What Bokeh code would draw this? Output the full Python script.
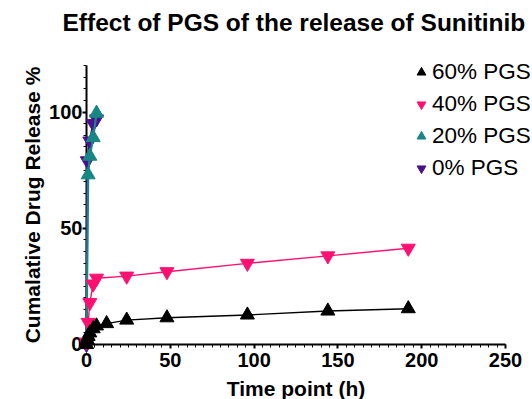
from bokeh.plotting import figure
from bokeh.models import Range1d, Legend, LegendItem, Label, FixedTicker
from bokeh.embed import file_html
from bokeh.resources import INLINE

# Data
t60 = [0, 0.5, 1, 2, 4, 6, 12, 24, 48, 96, 144, 192]
v60 = [0, 2, 3.5, 5, 6.8, 8, 9, 10.5, 11.5, 12.7, 14.4, 15.4]
t40 = [0, 1, 2, 4, 6, 24, 48, 96, 144, 192]
v40 = [1, 9.5, 18, 26, 28.5, 29.4, 31.3, 34.9, 38.1, 41.4]
t20 = [0, 1, 2, 4, 6]
v20 = [0, 73, 81, 89, 99.5]
t0 = [0, 0.5, 2, 4, 6]
v0 = [0, 79, 87.5, 95, 97]

labels = ["60% PGS", "40% PGS", "20% PGS", "0% PGS"]
colors = ["#000000", "#FF1070", "#178783", "#4B1090"]

x_ticks = [0, 50, 100, 150, 200, 250]
y_ticks = [0, 50, 100]
title_text = "Effect of PGS of the release of Sunitinib"

FONT = "Liberation Sans"

# frame covers whole canvas; axes are pinned at 0 so nothing gets clipped
p = figure(width=532, height=399, output_backend="svg", toolbar_location=None,
           title=None,
           x_range=Range1d(-51.3, 266.1), y_range=Range1d(-23.66, 147.96),
           min_border_left=0, min_border_right=0, min_border_top=0,
           min_border_bottom=0)
p.grid.visible = False
p.outline_line_color = None

p.add_layout(Label(x=62, y=377, x_units="screen", y_units="screen", text=title_text,
                   text_font=FONT, text_font_size="24.5px", text_font_style="bold",
                   text_color="black", text_baseline="middle", text_align="left"))

for ax, ticks, bnd, minor in ((p.xaxis[0], x_ticks, (0, 250), list(range(0, 251, 5))),
                              (p.yaxis[0], y_ticks, (0, 120), list(range(0, 121, 5)))):
    ax.ticker = FixedTicker(ticks=ticks, minor_ticks=minor)
    ax.bounds = bnd
    ax.fixed_location = 0
    ax.axis_line_width = 2
    ax.axis_line_color = "black"
    ax.major_tick_line_width = 2
    ax.major_tick_out = 4
    ax.major_tick_in = 0
    ax.minor_tick_line_width = 1
    ax.minor_tick_out = 3
    ax.minor_tick_in = 0
    ax.major_label_text_font = FONT
    ax.major_label_text_font_size = "20px"
    ax.major_label_text_font_style = "bold"
    ax.major_label_text_color = "black"
    ax.axis_label_text_font = FONT
    ax.axis_label_text_font_size = "21px"
    ax.axis_label_text_font_style = "bold"
    ax.axis_label_text_color = "black"

p.xaxis[0].axis_label = "Time point (h)"
p.yaxis[0].axis_label = "Cumalative Drug Release %"
p.xaxis[0].major_label_standoff = 5
p.xaxis[0].axis_label_standoff = 6
p.yaxis[0].major_label_standoff = 0
p.yaxis[0].axis_label_standoff = 2

series = [(t60, v60, "triangle", 1.4), (t40, v40, "inverted_triangle", 1.4),
          (t20, v20, "triangle", 2.2), (t0, v0, "inverted_triangle", 2.2)]

marker_r = {}
for i in [3, 2, 1, 0]:
    tx, vy, mk, lw = series[i]
    p.line(tx, vy, line_color=colors[i], line_width=lw, level="overlay")
    sc = p.scatter(tx, vy, marker=mk, size=14, fill_color=colors[i],
                   line_color=colors[i], level="overlay")
    marker_r[i] = sc

legend = Legend(items=[LegendItem(label=labels[i], renderers=[marker_r[i]]) for i in range(4)],
                location=(410, 218), border_line_color=None, background_fill_alpha=0,
                label_text_font=FONT, label_text_font_size="22.5px",
                label_text_color="black",
                label_height=24, glyph_height=24, glyph_width=22, spacing=6,
                padding=0, margin=0, label_standoff=0)
p.add_layout(legend)

open("out.html", "w").write(file_html(p, INLINE))
